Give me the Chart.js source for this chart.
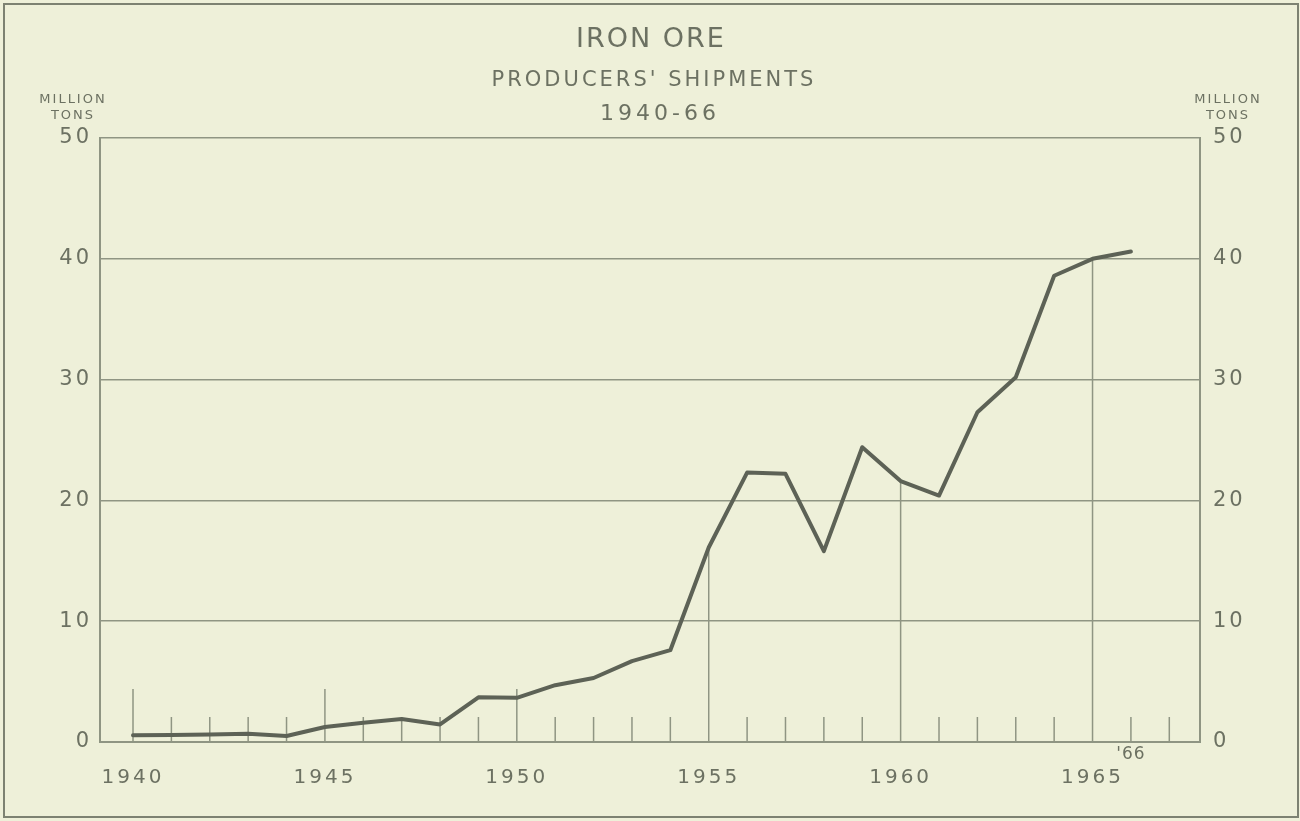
<!DOCTYPE html>
<html lang="en">
<head>
    <meta charset="UTF-8">
    <title>Iron Ore - Producers' Shipments 1940-66</title>
    <script src="https://cdn.jsdelivr.net/npm/chart.js"></script>
    <style>
        html, body { margin: 0; padding: 0; background: #eef0d9; }
        #wrap { width: 1300px; height: 821px; }
    </style>
</head>
<body>
    <div id="wrap"><canvas id="myChart"></canvas></div>

    <script>
        // Data (million tons)
        const years = [1940, 1941, 1942, 1943, 1944, 1945, 1946, 1947, 1948, 1949,
                       1950, 1951, 1952, 1953, 1954, 1955, 1956, 1957, 1958, 1959,
                       1960, 1961, 1962, 1963, 1964, 1965, 1966];
        const shipments = [0.55, 0.58, 0.63, 0.68, 0.5, 1.24, 1.6, 1.9, 1.45, 3.7,
                           3.66, 4.7, 5.3, 6.7, 7.6, 16.1, 22.3, 22.2, 15.8, 24.4,
                           21.6, 20.4, 27.3, 30.2, 38.6, 40.0, 40.6];
        const yearLabels = [1940, 1945, 1950, 1955, 1960, 1965];
        const tonTicks = [0, 10, 20, 30, 40, 50];
        const tickYears = [1940, 1941, 1942, 1943, 1944, 1945, 1946, 1947, 1948, 1949,
                           1950, 1951, 1952, 1953, 1954, 1955, 1956, 1957, 1958, 1959,
                           1960, 1961, 1962, 1963, 1964, 1965, 1966, 1967];

        const ink = '#6c7162';
        const gridInk = '#8f9583';
        const paper = '#eef0d9';
        const FONT = "'DejaVu Sans', sans-serif";

        // background, frame, spacing of letters
        const paperPlugin = {
            id: 'paper',
            beforeDraw(chart) {
                const ctx = chart.ctx;
                ctx.save();
                ctx.fillStyle = paper;
                ctx.fillRect(0, 0, chart.width, chart.height);
                ctx.strokeStyle = '#7d8272';
                ctx.lineWidth = 2;
                ctx.strokeRect(4, 4, 1294, 813);
                ctx.restore();
                ctx.letterSpacing = '3px';
            }
        };

        // year ticks drawn up from the axis; the major ones reach the curve
        const yearTicks = {
            id: 'yearTicks',
            beforeDatasetsDraw(chart) {
                const { ctx, scales: { x, y }, chartArea } = chart;
                ctx.save();
                ctx.strokeStyle = gridInk;
                ctx.lineWidth = 1.5;
                tickYears.forEach(yr => {
                    const px = x.getPixelForValue(yr);
                    let top = chartArea.bottom - 25;
                    if (yr % 5 === 0) {
                        const i = years.indexOf(yr);
                        top = chartArea.bottom - 53;
                        if (i >= 0) top = Math.min(top, y.getPixelForValue(shipments[i]));
                    }
                    ctx.beginPath();
                    ctx.moveTo(px, chartArea.bottom);
                    ctx.lineTo(px, top);
                    ctx.stroke();
                });
                ctx.restore();
            },
            afterDraw(chart) {
                const { ctx, scales: { x }, chartArea } = chart;
                ctx.save();
                ctx.fillStyle = ink;
                ctx.textAlign = 'center';
                ctx.textBaseline = 'middle';
                ctx.letterSpacing = '2px';

                // titles
                ctx.font = '27px ' + FONT;
                ctx.fillText('IRON ORE', 651, 40);
                ctx.letterSpacing = '3px';
                ctx.font = '21px ' + FONT;
                ctx.fillText("PRODUCERS' SHIPMENTS", 654, 81);
                ctx.letterSpacing = '4px';
                ctx.font = '22px ' + FONT;
                ctx.fillText('1940-66', 660, 114);

                // unit labels
                ctx.letterSpacing = '2px';
                ctx.font = '13px ' + FONT;
                ctx.fillText('MILLION', 73, 100);
                ctx.fillText('TONS', 73, 116);
                ctx.fillText('MILLION', 1228, 100);
                ctx.fillText('TONS', 1228, 116);

                // last year marker
                ctx.font = '17px ' + FONT;
                ctx.letterSpacing = '1px';
                ctx.fillText("'66", x.getPixelForValue(1966), chartArea.bottom + 13);
                ctx.restore();
            }
        };

        const ctx = document.getElementById('myChart').getContext('2d');
        const myChart = new Chart(ctx, {
            type: 'line',
            data: {
                datasets: [{
                    label: 'Producers\' shipments',
                    data: years.map((yr, i) => ({ x: yr, y: shipments[i] })),
                    borderColor: '#5d6256',
                    borderWidth: 4,
                    pointRadius: 0,
                    fill: false,
                    tension: 0,
                    borderJoinStyle: 'round',
                    borderCapStyle: 'round',
                    yAxisID: 'y'
                }]
            },
            options: {
                responsive: true,
                maintainAspectRatio: false,
                animation: false,
                layout: { padding: { top: 138, left: 0, right: 0, bottom: 0 } },
                scales: {
                    x: {
                        type: 'linear',
                        min: 1939.14,
                        max: 1967.8,
                        afterBuildTicks: scale => { scale.ticks = yearLabels.map(v => ({ value: v })); },
                        afterFit: scale => { scale.height = 79; },
                        grid: { display: false, drawTicks: false },
                        border: { display: true, color: gridInk, width: 2 },
                        ticks: {
                            color: ink,
                            font: { family: FONT, size: 20 },
                            padding: 24,
                            maxRotation: 0,
                            autoSkip: false,
                            callback: v => String(v)
                        }
                    },
                    y: {
                        position: 'left',
                        min: 0,
                        max: 50,
                        afterBuildTicks: scale => { scale.ticks = tonTicks.map(v => ({ value: v })); },
                        afterFit: scale => { scale.width = 100; },
                        grid: { color: gridInk, lineWidth: 1.5, drawTicks: false },
                        border: { display: true, color: gridInk, width: 2 },
                        ticks: { color: ink, font: { family: FONT, size: 21 }, padding: 8 }
                    },
                    y2: {
                        position: 'right',
                        min: 0,
                        max: 50,
                        afterBuildTicks: scale => { scale.ticks = tonTicks.map(v => ({ value: v })); },
                        afterFit: scale => { scale.width = 100; },
                        grid: { display: false, drawTicks: false },
                        border: { display: true, color: gridInk, width: 2 },
                        ticks: { color: ink, font: { family: FONT, size: 21 }, padding: 13 }
                    }
                },
                plugins: {
                    legend: { display: false },
                    tooltip: { enabled: false }
                }
            },
            plugins: [paperPlugin, yearTicks]
        });
    </script>
</body>
</html>
